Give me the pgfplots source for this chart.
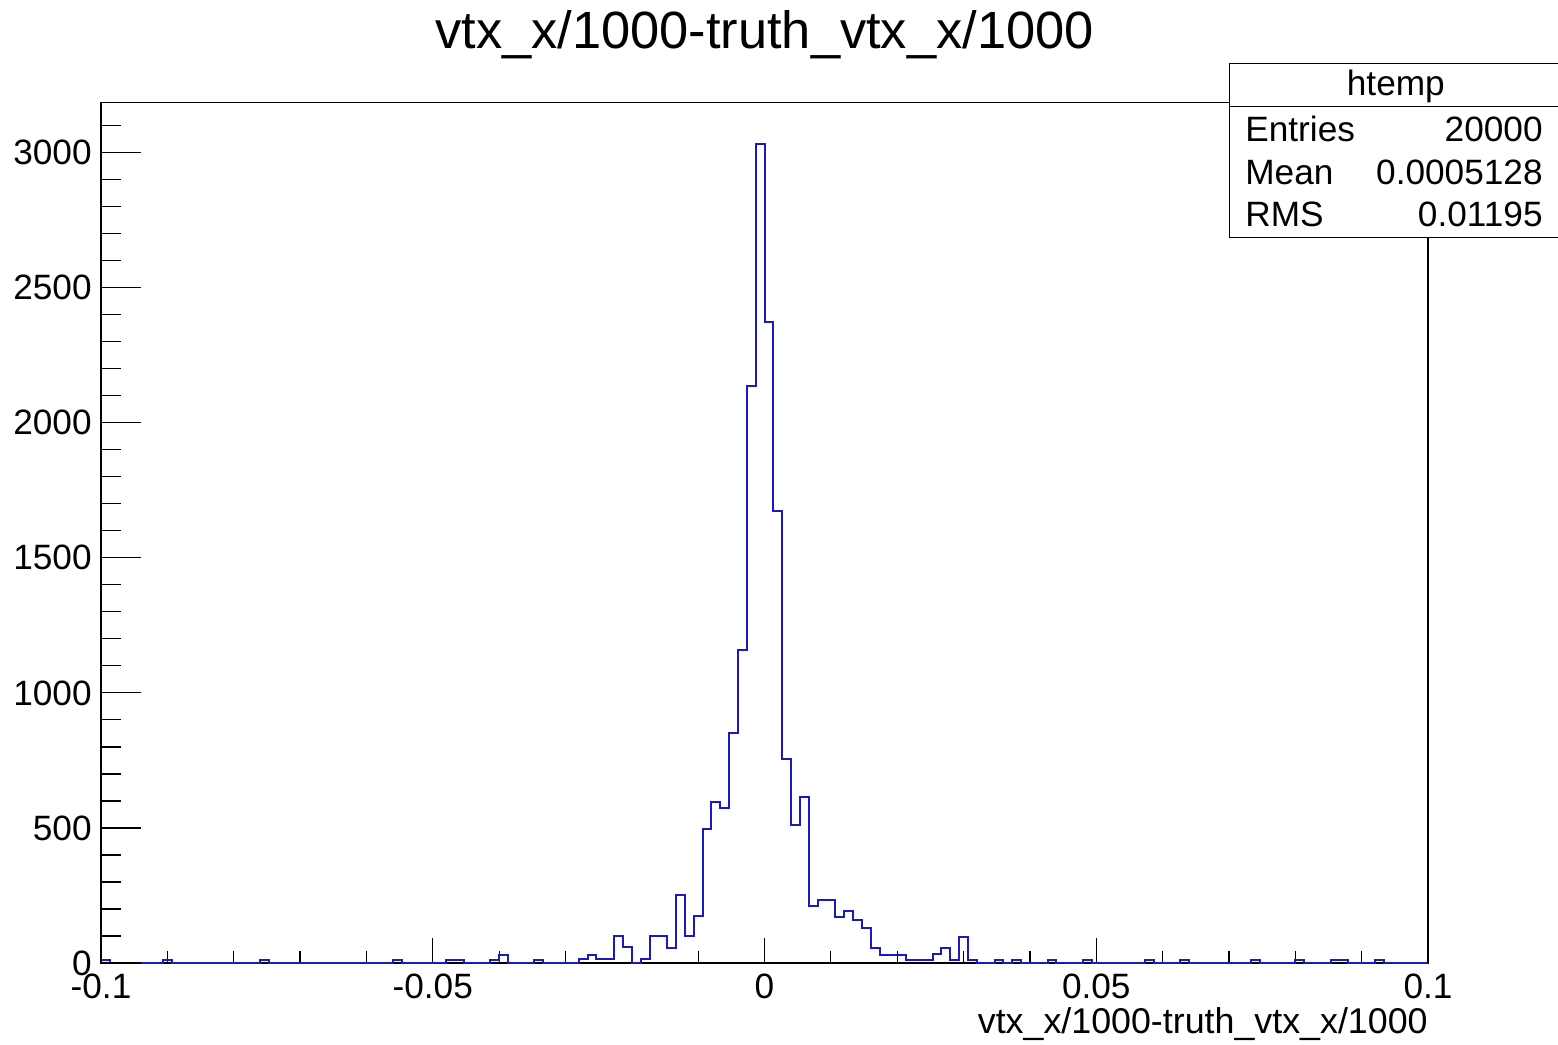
\documentclass[border=0pt]{standalone}
\usepackage{fontspec}
\setmainfont{Liberation Sans}
\usepackage{pgfplots}
\pgfplotsset{compat=1.18}
\definecolor{roothist}{RGB}{25,25,200}
\newcommand\statfont{\fontsize{17.6bp}{20bp}\selectfont}
\pgfplotsset{
  rootframe/.style={
    at={(50.5bp,41bp)}, anchor=south west,
    width=663.5bp, height=430.15bp, scale only axis,
    xmin=0, xmax=150, ymin=0, ymax=3185,
    tick align=inside,
    axis line style={line width=0.6bp, black},
    tick style={line width=0.6bp, black},
  },
}
\begin{document}
\begin{tikzpicture}
\useasboundingbox (0,0) rectangle (779bp,522.5bp);
\clip (0,0) rectangle (779bp,522.5bp);
% frame, x axis and the histogram
\begin{axis}[
  rootframe,
  clip=false,
  xtick={0,37.5,75,112.5,150},
  xticklabels={-0.1,-0.05,0,0.05,0.1},
  minor xtick={7.5,15,22.5,30,45,52.5,60,67.5,82.5,90,97.5,105,120,127.5,135,142.5},
  ytick=\empty, minor ytick={},
  xtick pos=bottom,
  major tick length=12.5bp, minor tick length=5.9bp,
  xticklabel style={font=\statfont, anchor=base, inner sep=0pt, yshift=-17.5bp},
  xlabel={vtx\_x/1000-truth\_vtx\_x/1000},
  xlabel style={at={(axis description cs:1,0)}, anchor=base east, inner sep=0pt, yshift=-35bp, font=\fontsize{17.9bp}{20bp}\selectfont},
  title={vtx\_x/1000-truth\_vtx\_x/1000},
  title style={at={(axis description cs:0.5,1)}, anchor=base, inner sep=0pt, yshift=21.1bp, font=\fontsize{26.2bp}{30bp}\selectfont},
]
% 150 bins from -0.1 to 0.1, x is the bin index
\addplot[const plot mark left, no marks, draw=roothist, line width=1bp] coordinates {
(0,0)(0,12)(1,0)(2,0)(3,0)(4,0)(5,0)(6,0)(7,12)(8,0)(9,0)
(10,0)(11,0)(12,0)(13,0)(14,0)(15,0)(16,0)(17,0)(18,12)(19,0)
(20,0)(21,0)(22,0)(23,0)(24,0)(25,0)(26,0)(27,0)(28,0)(29,0)
(30,0)(31,0)(32,0)(33,12)(34,0)(35,0)(36,0)(37,0)(38,0)(39,12)
(40,12)(41,0)(42,0)(43,0)(44,12)(45,30)(46,0)(47,0)(48,0)(49,12)
(50,0)(51,0)(52,0)(53,0)(54,15)(55,30)(56,15)(57,15)(58,100)(59,60)
(60,0)(61,15)(62,100)(63,100)(64,55)(65,250)(66,100)(67,175)(68,495)(69,597)
(70,572)(71,852)(72,1158)(73,2136)(74,3033)(75,2373)(76,1672)(77,757)(78,511)(79,613)
(80,212)(81,233)(82,233)(83,171)(84,192)(85,159)(86,131)(87,57)(88,30)(89,30)
(90,30)(91,12)(92,12)(93,12)(94,33)(95,55)(96,12)(97,98)(98,12)(99,0)
(100,0)(101,12)(102,0)(103,12)(104,0)(105,0)(106,0)(107,12)(108,0)(109,0)
(110,0)(111,12)(112,0)(113,0)(114,0)(115,0)(116,0)(117,0)(118,12)(119,0)
(120,0)(121,0)(122,12)(123,0)(124,0)(125,0)(126,0)(127,0)(128,0)(129,0)
(130,12)(131,0)(132,0)(133,0)(134,0)(135,12)(136,0)(137,0)(138,0)(139,12)
(140,12)(141,0)(142,0)(143,0)(144,12)(145,0)(146,0)(147,0)(148,0)(149,0)
(150,0)
};
\end{axis}
% y axis ticks, longer than the x ones as in ROOT
\begin{axis}[
  rootframe,
  hide x axis,
  ytick={0,500,1000,1500,2000,2500,3000},
  yticklabels={0,500,1000,1500,2000,2500,3000},
  minor ytick={100,200,300,400,600,700,800,900,1100,1200,1300,1400,1600,1700,1800,1900,2100,2200,2300,2400,2600,2700,2800,2900,3100},
  ytick pos=left,
  major tick length=20bp, minor tick length=10bp,
  yticklabel style={font=\statfont, anchor=east, inner sep=0pt, xshift=-4.5bp},
]
\end{axis}
% stats box
\draw[line width=0.6bp, fill=white] (614.65bp,403.85bp) rectangle (800bp,490.85bp);
\draw[line width=0.6bp] (614.65bp,469.15bp) -- (800bp,469.15bp);
\node[anchor=base, inner sep=0pt, font=\statfont] at (697.9bp,474.65bp) {htemp};
\node[anchor=base west, inner sep=0pt, font=\statfont] at (622.5bp,451.65bp) {Entries};
\node[anchor=base east, inner sep=0pt, font=\statfont] at (771.5bp,451.65bp) {20000};
\node[anchor=base west, inner sep=0pt, font=\statfont] at (622.5bp,430bp) {Mean};
\node[anchor=base east, inner sep=0pt, font=\statfont] at (771.5bp,430bp) {0.0005128};
\node[anchor=base west, inner sep=0pt, font=\statfont] at (622.5bp,409.2bp) {RMS};
\node[anchor=base east, inner sep=0pt, font=\statfont] at (771.5bp,409.2bp) {0.01195};
\end{tikzpicture}
\end{document}
